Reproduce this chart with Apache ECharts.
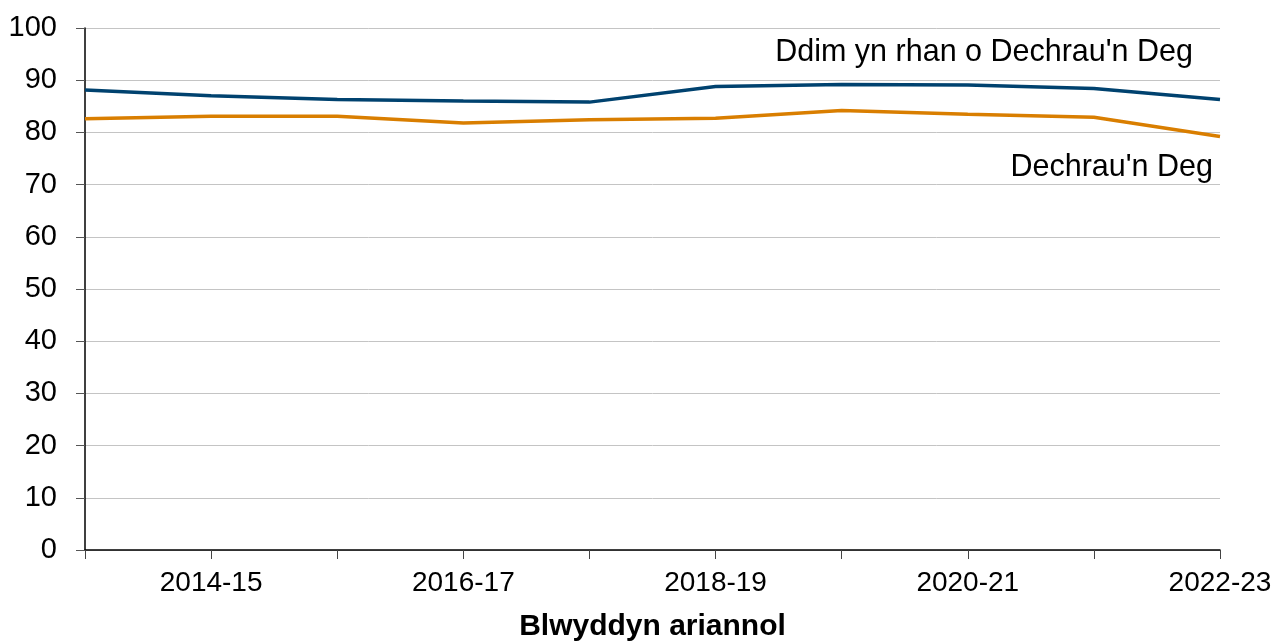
<!DOCTYPE html>
<html>
<head>
<meta charset="utf-8">
<script src="https://cdn.jsdelivr.net/npm/echarts@6/dist/echarts.min.js"></script>
<style>
  html, body { margin: 0; padding: 0; background: #fff; }
  #chart { width: 1281px; height: 641px; }
</style>
</head>
<body>
<div id="chart"></div>
<script>
const years = ['2013-14', '2014-15', '2015-16', '2016-17', '2017-18', '2018-19', '2019-20', '2020-21', '2021-22', '2022-23'];
const notFlyingStart = [88.1, 87.0, 86.3, 86.0, 85.8, 88.8, 89.2, 89.1, 88.4, 86.3];
const flyingStart = [82.6, 83.1, 83.1, 81.8, 82.4, 82.7, 84.2, 83.5, 82.9, 79.2];
const yTicks = [0, 10, 20, 30, 40, 50, 60, 70, 80, 90, 100];

const font = 'Liberation Sans, Arial, sans-serif';

const chart = echarts.init(document.getElementById('chart'));

const option = {
  animation: false,
  grid: { left: 85, right: 61, top: 28, bottom: 91, containLabel: false, outerBoundsMode: 'none' },
  xAxis: {
    type: 'category',
    data: years,
    boundaryGap: false,
    name: 'Blwyddyn ariannol',
    nameLocation: 'middle',
    nameGap: 62,
    nameTextStyle: { fontFamily: font, fontSize: 30, fontWeight: 'bold', color: '#000' },
    axisLine: { lineStyle: { color: '#000', width: 1.5 } },
    axisTick: { alignWithLabel: true, interval: 0, length: 9, lineStyle: { color: '#444' } },
    axisLabel: {
      interval: (i) => i % 2 === 1,
      fontFamily: font, fontSize: 28, color: '#000', margin: 19
    },
    splitLine: { show: false }
  },
  yAxis: {
    type: 'value',
    min: yTicks[0],
    max: yTicks[yTicks.length - 1],
    interval: 10,
    axisLine: { show: true, lineStyle: { color: '#000', width: 1.5 } },
    axisTick: { show: true, length: 9, lineStyle: { color: '#555' } },
    axisLabel: { fontFamily: font, fontSize: 29, color: '#000', margin: 28 },
    splitLine: { lineStyle: { color: '#c4c4c4', width: 1 } }
  },
  series: [
    {
      name: "Ddim yn rhan o Dechrau'n Deg",
      type: 'line',
      data: notFlyingStart,
      symbol: 'none',
      lineStyle: { color: '#00426f', width: 3.5 }
    },
    {
      name: "Dechrau'n Deg",
      type: 'line',
      data: flyingStart,
      symbol: 'none',
      lineStyle: { color: '#d97e00', width: 3.5 }
    }
  ],
  graphic: [
    {
      type: 'text', x: 1193, y: 53,
      style: { text: "Ddim yn rhan o Dechrau'n Deg", font: '30.5px ' + font, fill: '#000', align: 'right', verticalAlign: 'middle' }
    },
    {
      type: 'text', x: 1213, y: 168,
      style: { text: "Dechrau'n Deg", font: '30.5px ' + font, fill: '#000', align: 'right', verticalAlign: 'middle' }
    }
  ]
};

chart.setOption(option);
</script>
</body>
</html>
